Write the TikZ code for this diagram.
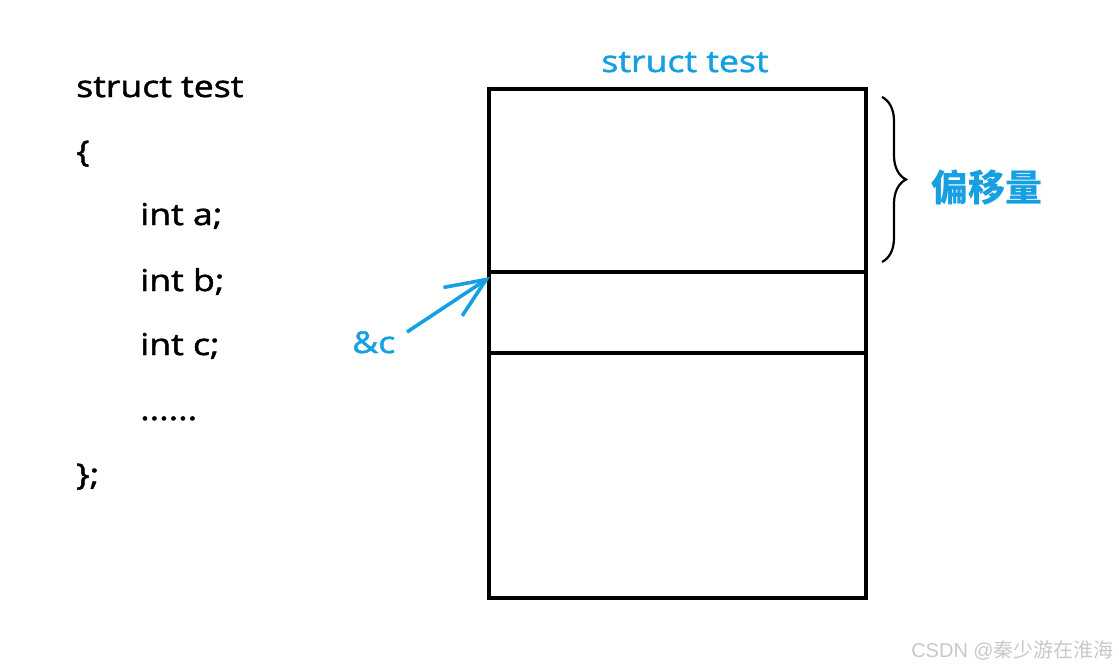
\documentclass[tikz,border=0pt]{standalone}
\usepackage{fontspec}
\setmainfont{Open Sans}[FakeStretch=1.19, FakeBold=1.6]
\newfontfamily\cjk{Noto Sans CJK SC}
\newfontfamily\wm{Liberation Sans}
\usetikzlibrary{arrows.meta,decorations.pathreplacing}
\definecolor{myblue}{RGB}{22,160,226}
\definecolor{wmgray}{RGB}{200,200,200}
\tikzset{
  code/.style={anchor=base west, inner sep=0pt, font=\fontsize{30}{30}\selectfont},
  bluetxt/.style={inner sep=0pt, text=myblue, font=\fontsize{30}{30}\selectfont},
  cell/.style={draw=black, line width=3.6pt, inner sep=0pt, minimum width=377pt},
}
\begin{document}
\begin{tikzpicture}[x=1pt,y=-1pt]
\useasboundingbox (0,0) rectangle (1119,669);
% code
\node[code] (l1) at (76,97) {struct test};
\node[code] (l2) at (76,162) {\{};
\node[code] (l3) at (140,225) {int a;};
\node[code] (l4) at (140,291) {int b;};
\node[code] (l5) at (140,355) {int c;};
\node[code] (l6) at (140,420) {......};
\node[code] (l7) at (76,485) {\};};
% memory box
\node[cell, minimum height=183pt] (c1) at (677.5,180.5) {};
\node[cell, minimum height=81pt] (c2) at (677.5,312.5) {};
\node[cell, minimum height=245pt] (c3) at (677.5,475.5) {};
\node[bluetxt, anchor=base] (title) at (685,72) {struct test};
% brace
\coordinate (bt) at (882,97);
\coordinate (bb) at (882,262);
\draw[line width=2.2pt, decorate, decoration={brace, amplitude=24pt, raise=0pt}] (bt) -- (bb);
\node[text=myblue, inner sep=0pt, anchor=west, font=\cjk\bfseries\fontsize{37}{37}\selectfont] (off) at (931,188) {偏移量};
% &c arrow
\node[bluetxt, anchor=base west] (amp) at (352,353) {\&c};
\coordinate (tail) at (407,332);
\coordinate (tip) at (490,277);
\draw[myblue, line width=3.6pt, -{Straight Barb[length=40pt, width=34pt, line width=3.6pt]}] (tail) -- (tip);
% watermark
\node[anchor=base east, inner sep=0pt, text=wmgray, font=\wm\fontsize{20}{20}\selectfont] (wmk) at (1114,657) {CSDN @{\cjk 秦少游在淮海}};
\end{tikzpicture}
\end{document}
